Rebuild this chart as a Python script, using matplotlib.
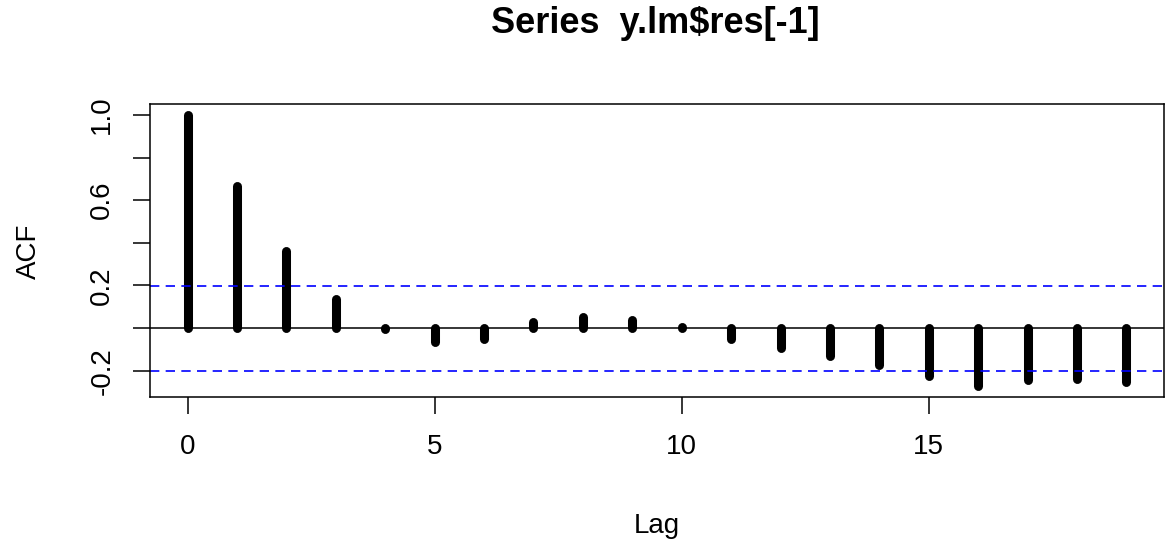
import matplotlib
matplotlib.use("Agg")
import matplotlib.pyplot as plt
import numpy as np

# Autocorrelation of the residual series
lags = list(range(20))
acf_values = [1.0, 0.665, 0.362, 0.138, -0.005, -0.066, -0.050, 0.028, 0.052, 0.038,
              0.003, -0.050, -0.095, -0.131, -0.173, -0.225, -0.272, -0.241, -0.238, -0.252]
ci_bound = 0.199
title = "Series  y.lm$res[-1]"
x_ticks = [0, 5, 10, 15]
y_ticks = [-0.2, 0.0, 0.2, 0.4, 0.6, 0.8, 1.0]
y_tick_labels = ["-0.2", "", "0.2", "", "0.6", "", "1.0"]

plt.rcParams["font.family"] = ["Liberation Sans", "DejaVu Sans"]

W, H = 1169, 539
fig = plt.figure(figsize=(W / 100, H / 100), dpi=100)
ax = fig.add_axes([150 / W, 1 - 397 / H, (1164 - 150) / W, (397 - 104) / H])

# R-style axis ranges: data range padded by 4% on each side
xmin, xmax = min(lags), max(lags)
xpad = 0.04 * (xmax - xmin)
ymin = min(min(acf_values), -ci_bound)
ymax = max(max(acf_values), ci_bound)
ypad = 0.04 * (ymax - ymin)
ax.set_xlim(xmin - xpad, xmax + xpad)
ax.set_ylim(ymin - ypad, ymax + ypad)

ax.vlines(lags, 0, acf_values, colors="black", linewidth=6.5, capstyle="round")
ax.axhline(0, color="black", linewidth=1.1)
for b in (ci_bound, -ci_bound):
    ax.axhline(b, color="#0000FF", linewidth=1.2, linestyle=(0, (5.6, 3.8)))

for s in ax.spines.values():
    s.set_linewidth(1.1)
    s.set_color("black")

ax.set_xticks(x_ticks)
ax.set_xticklabels([str(v) for v in x_ticks])
ax.set_yticks(y_ticks)
ax.set_yticklabels(y_tick_labels)
ax.tick_params(axis="both", length=12, width=1.1, color="black", labelsize=20, labelcolor="black")
ax.tick_params(axis="x", pad=15)
ax.tick_params(axis="y", pad=13)
for lab in ax.get_yticklabels():
    lab.set_rotation(90)
    lab.set_va("center")

fig.text(655 / W, 1 - 33 / H, title, ha="center", va="baseline",
         fontsize=26, fontweight="bold")
fig.text(657 / W, 1 - 533 / H, "Lag", ha="center", va="baseline", fontsize=20)
fig.text(29 / W, 1 - 251 / H, "ACF", ha="center", va="center", rotation=90, fontsize=20)

fig.savefig("out.png", dpi=100)
